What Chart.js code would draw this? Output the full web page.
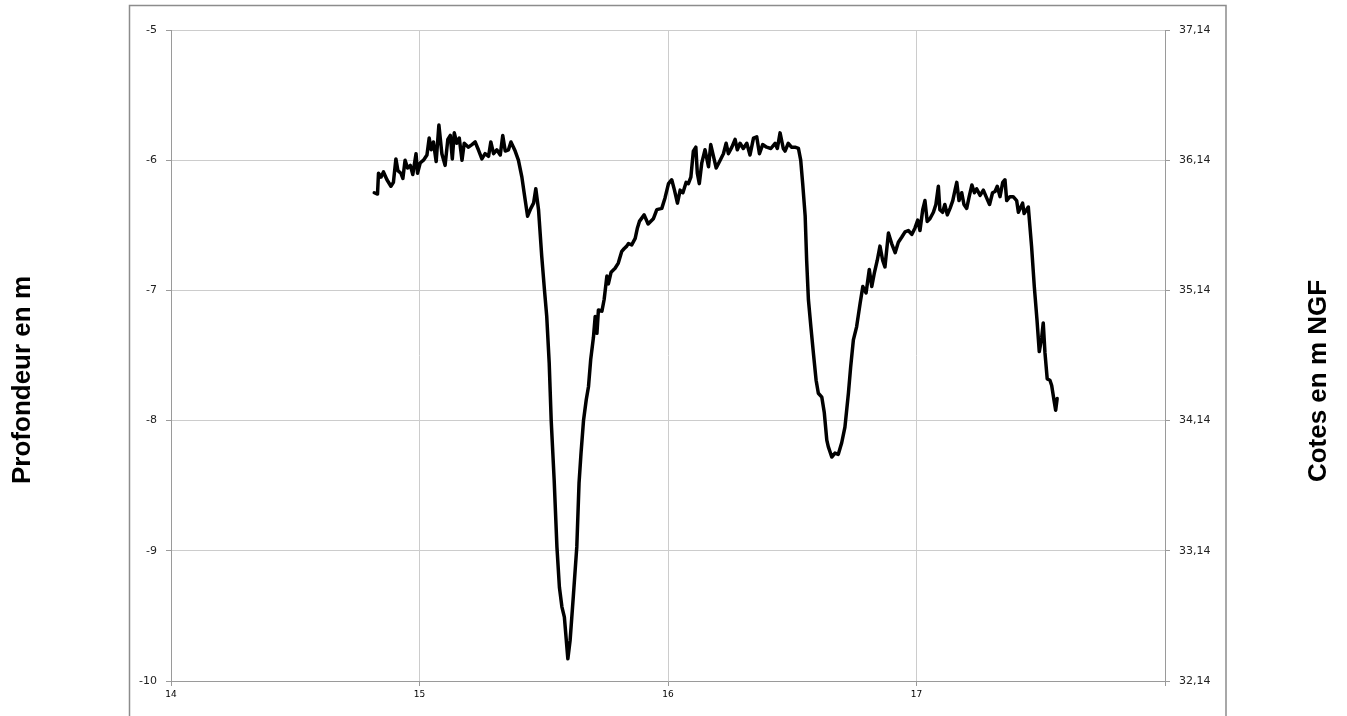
<!DOCTYPE html>
<html>
<head>
<meta charset="utf-8">
<script src="https://cdn.jsdelivr.net/npm/chart.js@4"></script>
<style>
  html, body { margin: 0; padding: 0; background: #fff; }
  #chart { display: block; }
</style>
</head>
<body>
<canvas id="chart" width="1347" height="716"></canvas>
<script>
// Depth profile data (x = abscissa, y = depth in m)
const depthX = [
    14.818, 14.831, 14.835, 14.845, 14.855, 14.869, 14.885, 14.895, 14.905, 14.913,
    14.925, 14.933, 14.942, 14.952, 14.963, 14.973, 14.986, 14.992, 15.003, 15.016,
    15.030, 15.039, 15.047, 15.056, 15.067, 15.078, 15.090, 15.103, 15.114, 15.124,
    15.132, 15.140, 15.150, 15.160, 15.171, 15.180, 15.197, 15.211, 15.224, 15.237,
    15.251, 15.264, 15.278, 15.287, 15.298, 15.311, 15.325, 15.335, 15.345, 15.358,
    15.368, 15.378, 15.385, 15.398, 15.412, 15.421, 15.435, 15.448, 15.459, 15.468,
    15.479, 15.492, 15.503, 15.512, 15.522, 15.530, 15.542, 15.553, 15.563, 15.573,
    15.583, 15.597, 15.606, 15.619, 15.633, 15.642, 15.650, 15.660, 15.671, 15.680,
    15.689, 15.700, 15.707, 15.714, 15.720, 15.734, 15.743, 15.754, 15.760, 15.771,
    15.787, 15.800, 15.814, 15.823, 15.834, 15.841, 15.854, 15.868, 15.877, 15.885,
    15.904, 15.920, 15.941, 15.955, 15.975, 15.988, 16.002, 16.015, 16.026, 16.038,
    16.049, 16.060, 16.073, 16.082, 16.092, 16.102, 16.112, 16.118, 16.126, 16.136,
    16.149, 16.163, 16.172, 16.183, 16.194, 16.210, 16.223, 16.234, 16.243, 16.257,
    16.270, 16.279, 16.290, 16.303, 16.317, 16.330, 16.344, 16.357, 16.368, 16.381,
    16.397, 16.414, 16.431, 16.440, 16.451, 16.464, 16.471, 16.484, 16.497, 16.511,
    16.525, 16.534, 16.542, 16.552, 16.558, 16.565, 16.575, 16.585, 16.596, 16.605,
    16.619, 16.629, 16.639, 16.645, 16.659, 16.672, 16.685, 16.699, 16.712, 16.726,
    16.735, 16.746, 16.759, 16.773, 16.784, 16.797, 16.810, 16.820, 16.830, 16.842,
    16.853, 16.864, 16.873, 16.887, 16.900, 16.914, 16.927, 16.941, 16.954, 16.967,
    16.981, 16.994, 17.005, 17.014, 17.025, 17.034, 17.043, 17.054, 17.068, 17.078,
    17.088, 17.094, 17.105, 17.114, 17.124, 17.135, 17.146, 17.155, 17.162, 17.171,
    17.182, 17.191, 17.202, 17.212, 17.223, 17.233, 17.242, 17.256, 17.269, 17.280,
    17.294, 17.306, 17.316, 17.325, 17.336, 17.347, 17.356, 17.363, 17.376, 17.389,
    17.403, 17.410, 17.427, 17.433, 17.450, 17.463, 17.474, 17.485, 17.494, 17.504,
    17.510, 17.517, 17.526, 17.537, 17.544, 17.553, 17.560, 17.566
];

const depthY = [
    -6.25, -6.26, -6.10, -6.13, -6.09, -6.15, -6.20, -6.17, -5.99, -6.08,
    -6.10, -6.14, -6.00, -6.06, -6.04, -6.11, -5.95, -6.10, -6.02, -6.00,
    -5.96, -5.83, -5.92, -5.86, -6.01, -5.73, -5.95, -6.04, -5.84, -5.81,
    -5.99, -5.79, -5.87, -5.83, -6.00, -5.87, -5.90, -5.88, -5.86, -5.92,
    -5.99, -5.95, -5.97, -5.86, -5.95, -5.92, -5.96, -5.81, -5.93, -5.92,
    -5.86, -5.90, -5.93, -6.00, -6.13, -6.25, -6.43, -6.37, -6.33, -6.22,
    -6.38, -6.74, -7.00, -7.20, -7.56, -8.00, -8.46, -8.97, -9.28, -9.43,
    -9.51, -9.83, -9.69, -9.35, -8.97, -8.48, -8.25, -8.00, -7.84, -7.74,
    -7.53, -7.36, -7.20, -7.33, -7.15, -7.16, -7.07, -6.89, -6.95, -6.86,
    -6.83, -6.79, -6.70, -6.68, -6.66, -6.64, -6.65, -6.60, -6.52, -6.47,
    -6.42, -6.49, -6.45, -6.38, -6.37, -6.29, -6.18, -6.15, -6.23, -6.33,
    -6.23, -6.25, -6.17, -6.18, -6.13, -5.93, -5.90, -6.10, -6.18, -6.02,
    -5.92, -6.05, -5.88, -5.97, -6.06, -6.00, -5.95, -5.87, -5.95, -5.90,
    -5.84, -5.92, -5.87, -5.91, -5.87, -5.96, -5.83, -5.82, -5.95, -5.88,
    -5.90, -5.91, -5.87, -5.91, -5.79, -5.91, -5.93, -5.87, -5.90, -5.90,
    -5.91, -6.00, -6.18, -6.43, -6.77, -7.07, -7.28, -7.48, -7.69, -7.79,
    -7.82, -7.94, -8.15, -8.20, -8.28, -8.25, -8.26, -8.17, -8.05, -7.79,
    -7.59, -7.38, -7.28, -7.10, -6.97, -7.02, -6.84, -6.97, -6.87, -6.77,
    -6.66, -6.77, -6.82, -6.56, -6.64, -6.71, -6.63, -6.59, -6.55, -6.54,
    -6.57, -6.52, -6.46, -6.54, -6.38, -6.31, -6.47, -6.45, -6.40, -6.34,
    -6.20, -6.38, -6.40, -6.34, -6.42, -6.37, -6.31, -6.23, -6.17, -6.31,
    -6.25, -6.34, -6.37, -6.28, -6.19, -6.25, -6.22, -6.27, -6.23, -6.28,
    -6.34, -6.25, -6.24, -6.20, -6.28, -6.17, -6.15, -6.31, -6.28, -6.28,
    -6.31, -6.40, -6.33, -6.41, -6.36, -6.66, -6.97, -7.23, -7.47, -7.36,
    -7.25, -7.48, -7.68, -7.69, -7.73, -7.84, -7.92, -7.83
];

// Axis ticks and labels
const xTicks = [14, 15, 16, 17, 18];
const xTickLabels = ['14', '15', '16', '17', ''];
const depthTicks = [-10, -9, -8, -7, -6, -5];
const coteTickLabels = ['32,14', '33,14', '34,14', '35,14', '36,14', '37,14'];

const leftTitle = 'Profondeur en m';
const rightTitle = 'Cotes en m NGF';

Chart.defaults.font.family = "'DejaVu Sans', Verdana, sans-serif";
Chart.defaults.color = '#222';

// Outer frame + axis titles
const framePlugin = {
    id: 'frame',
    beforeDraw(chart) {
        const ctx = chart.ctx;
        ctx.save();
        ctx.strokeStyle = '#8c8c8c';
        ctx.lineWidth = 1.5;
        ctx.beginPath();
        ctx.moveTo(129.5, 716);
        ctx.lineTo(129.5, 5.5);
        ctx.lineTo(1226, 5.5);
        ctx.lineTo(1226, 716);
        ctx.stroke();
        ctx.restore();
    },
    afterDraw(chart) {
        const ctx = chart.ctx;
        ctx.save();
        ctx.fillStyle = '#000';
        ctx.font = "bold 26px 'Liberation Sans', Arial, sans-serif";
        ctx.textAlign = 'center';
        ctx.textBaseline = 'middle';
        ctx.translate(23, 380);
        ctx.rotate(-Math.PI / 2);
        ctx.fillText(leftTitle, 0, 0);
        ctx.restore();

        ctx.save();
        ctx.fillStyle = '#000';
        ctx.font = "bold 26px 'Liberation Sans', Arial, sans-serif";
        ctx.textAlign = 'center';
        ctx.textBaseline = 'middle';
        ctx.translate(1319, 381);
        ctx.rotate(-Math.PI / 2);
        ctx.fillText(rightTitle, 0, 0);
        ctx.restore();
    }
};

const ctx = document.getElementById('chart');

new Chart(ctx.getContext('2d'), {
    type: 'line',
    data: {
        datasets: [
            {
                label: 'Profondeur',
                data: depthX.map((x, i) => ({ x: x, y: depthY[i] })),
                borderColor: '#000',
                borderWidth: 3.5,
                borderJoinStyle: 'round',
                borderCapStyle: 'round',
                pointRadius: 0,
                tension: 0,
                fill: false,
                yAxisID: 'y',
            },
        ],
    },
    options: {
        responsive: false,
        animation: false,
        devicePixelRatio: 1,
        layout: { padding: { top: 30, left: 0, right: 0, bottom: 0 } },
        plugins: {
            legend: { display: false },
            tooltip: { enabled: false },
        },
        scales: {
            x: {
                type: 'linear',
                min: 14,
                max: 18,
                afterBuildTicks: (scale) => {
                    scale.ticks = xTicks.map((v) => ({ value: v }));
                },
                afterFit: (scale) => {
                    scale.height = 35;
                },
                ticks: {
                    callback: (value) => xTickLabels[xTicks.indexOf(value)] ?? '',
                    font: { size: 9 },
                    color: '#000',
                    padding: 3,
                    maxRotation: 0,
                    autoSkip: false,
                },
                grid: { color: '#cccccc', tickColor: '#9a9a9a', tickLength: 5 },
                border: { color: '#9a9a9a' },
            },
            y: {
                position: 'left',
                min: -10,
                max: -5,
                afterBuildTicks: (scale) => {
                    scale.ticks = depthTicks.map((v) => ({ value: v }));
                },
                afterFit: (scale) => {
                    scale.width = 171;
                },
                ticks: {
                    font: { size: 11 },
                    color: '#222',
                    padding: 9,
                },
                grid: { color: '#cccccc', tickColor: '#9a9a9a', tickLength: 5 },
                border: { color: '#9a9a9a' },
            },
            y2: {
                position: 'right',
                min: -10,
                max: -5,
                afterBuildTicks: (scale) => {
                    scale.ticks = depthTicks.map((v) => ({ value: v }));
                },
                afterFit: (scale) => {
                    scale.width = 182;
                },
                ticks: {
                    callback: (value, index) => coteTickLabels[index],
                    font: { size: 11 },
                    color: '#222',
                    padding: 9,
                },
                grid: { drawOnChartArea: false, tickColor: '#9a9a9a', tickLength: 5 },
                border: { color: '#9a9a9a' },
            },
        },
    },
    plugins: [framePlugin],
});
</script>
</body>
</html>
